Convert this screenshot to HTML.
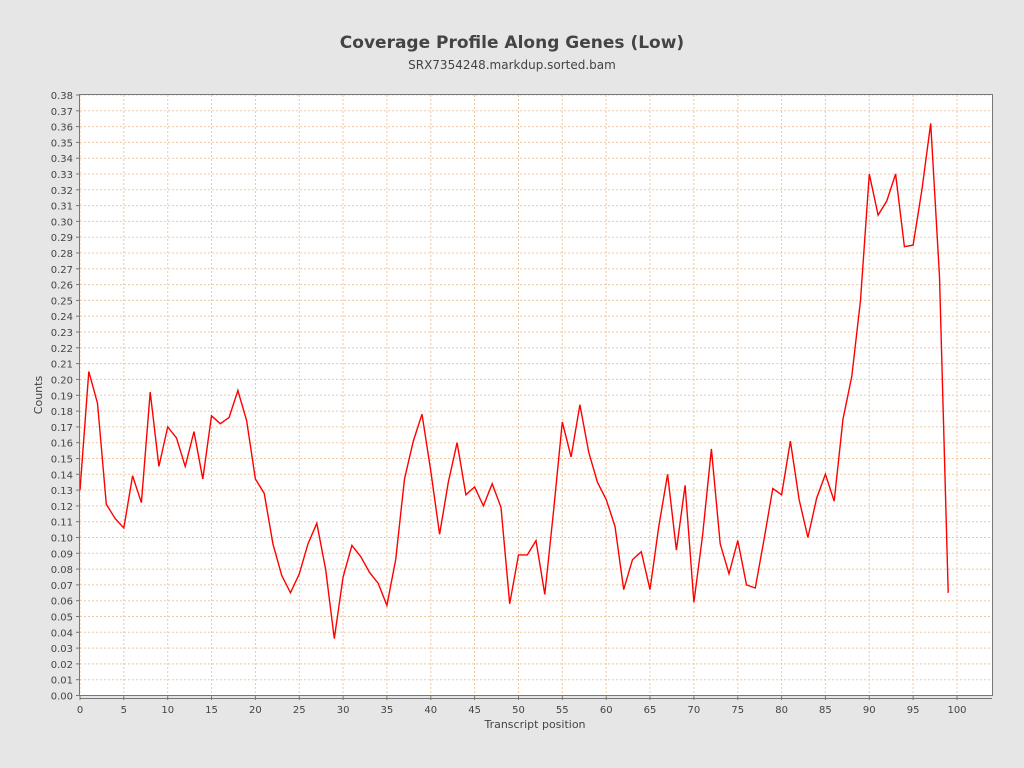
<!DOCTYPE html>
<html><head><meta charset="utf-8"><style>
body{margin:0;background:#e6e6e6;}
svg{display:block;font-family:"DejaVu Sans","Liberation Sans",sans-serif;}
</style></head><body>
<svg id="s" width="1024" height="768" xmlns="http://www.w3.org/2000/svg">
<rect width="1024" height="768" fill="#e6e6e6"/>
<text x="512" y="48" text-anchor="middle" font-size="17" font-weight="bold" fill="#444">Coverage Profile Along Genes (Low)</text>
<text x="512" y="69" text-anchor="middle" font-size="12" fill="#444">SRX7354248.markdup.sorted.bam</text>
<rect x="79.5" y="94.5" width="913" height="601" fill="#fff"/>
<g id="g"></g>
<polyline id="p" fill="none" stroke="#ff0000" stroke-width="1.4"/>
<rect x="79.5" y="94.5" width="913" height="601" fill="none" stroke="#777"/>
<text x="535" y="728" text-anchor="middle" font-size="11" fill="#444">Transcript position</text>
<text transform="translate(42,395) rotate(-90)" text-anchor="middle" font-size="11" fill="#444">Counts</text>
</svg>
<script>
var d=[0.130,0.205,0.185,0.121,0.112,0.106,0.139,0.122,0.192,0.145,0.170,0.163,0.145,0.167,0.137,0.177,0.172,0.176,0.193,0.174,0.137,0.128,0.096,0.076,0.065,0.077,0.096,0.109,0.080,0.036,0.075,0.095,0.088,0.078,0.071,0.057,0.086,0.137,0.161,0.178,0.142,0.102,0.135,0.160,0.127,0.132,0.120,0.134,0.119,0.058,0.089,0.089,0.098,0.064,0.117,0.173,0.151,0.184,0.154,0.135,0.124,0.107,0.067,0.086,0.091,0.067,0.107,0.140,0.092,0.133,0.059,0.102,0.156,0.096,0.077,0.098,0.070,0.068,0.099,0.131,0.127,0.161,0.124,0.100,0.125,0.140,0.123,0.175,0.202,0.250,0.330,0.304,0.313,0.330,0.284,0.285,0.320,0.362,0.265,0.065];
function X(v){return 80+v*8.77;}function Y(v){return 695.5-v*600.5/0.38;}
var h='';
for(var i=0;i<=38;i++){var y=Y(i/100).toFixed(1);
h+='<line x1="80" x2="992" y1="'+y+'" y2="'+y+'" stroke="#f0c8a0" stroke-dasharray="2,2" stroke-width="1"/>';
h+='<line x1="76" x2="79.5" y1="'+y+'" y2="'+y+'" stroke="#777"/>';
h+='<text x="73" y="'+(+y+4)+'" text-anchor="end" font-size="10" fill="#444">'+(i/100).toFixed(2)+'</text>';}
for(var j=0;j<=100;j+=5){var x=X(j).toFixed(1);
h+='<line y1="95" y2="695" x1="'+x+'" x2="'+x+'" stroke="#f0c8a0" stroke-dasharray="2,2" stroke-width="1"/>';
h+='<line y1="696" y2="700" x1="'+x+'" x2="'+x+'" stroke="#777"/>';
h+='<text y="713" x="'+x+'" text-anchor="middle" font-size="10" fill="#444">'+j+'</text>';}
h+='<line x1="79.5" x2="992" y1="698.5" y2="698.5" stroke="#777"/>';
document.getElementById('g').innerHTML=h;
document.getElementById('p').setAttribute('points',d.map(function(v,i){return X(i).toFixed(1)+','+Y(v).toFixed(1);}).join(' '));
</script>
</body></html>
